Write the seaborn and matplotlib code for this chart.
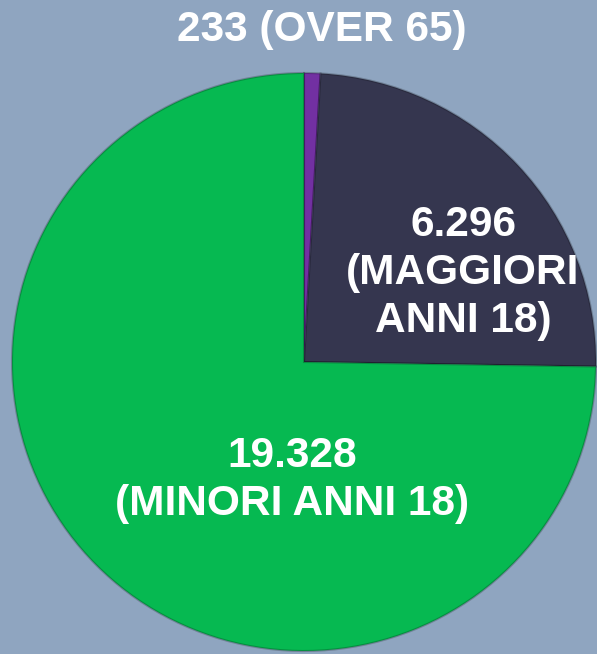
import matplotlib
matplotlib.use("Agg")
import matplotlib.pyplot as plt
import seaborn as sns

# values
categories = ["OVER 65", "MAGGIORI ANNI 18", "MINORI ANNI 18"]
values = [233, 6296, 19328]
labels = ["233 (OVER 65)", "6.296\n(MAGGIORI\nANNI 18)", "19.328\n(MINORI ANNI 18)"]
colors = ["#7230a2", "#35364f", "#06b951"]

sns.set_theme(style="white")
plt.rcParams["font.family"] = ["Liberation Sans", "DejaVu Sans"]

bg = "#8fa5c0"
W, H = 597, 654
fig = plt.figure(figsize=(W / 100, H / 100), dpi=100, facecolor=bg)
ax = fig.add_axes([0, 0, 1, 1])
ax.set_facecolor(bg)

# pie centre / radii in pixels (slightly squashed vertically)
cx, cy, rx, ry = 304, 362, 292, 289

def px(x, y):
    return (x - cx) / rx, (cy - y) / ry

wedges, _ = ax.pie(values, colors=colors, startangle=90, counterclock=False,
                   radius=1.0, wedgeprops=dict(linewidth=1.5))
for w in wedges:
    w.set_edgecolor((0, 0, 0, 0.22))

ax.set_xlim(-cx / rx, (W - cx) / rx)
ax.set_ylim(-(H - cy) / ry, cy / ry)
ax.set_aspect("auto")
ax.axis("off")

txt = dict(color="white", fontweight="bold", ha="center", va="center",
           fontsize=30.5, linespacing=1.27)
ax.text(*px(322, 30), labels[0], **txt)
ax.text(*px(463, 273), labels[1], **txt)
ax.text(*px(292, 480), labels[2], **txt)

fig.savefig("out.png", dpi=100, facecolor=bg)
